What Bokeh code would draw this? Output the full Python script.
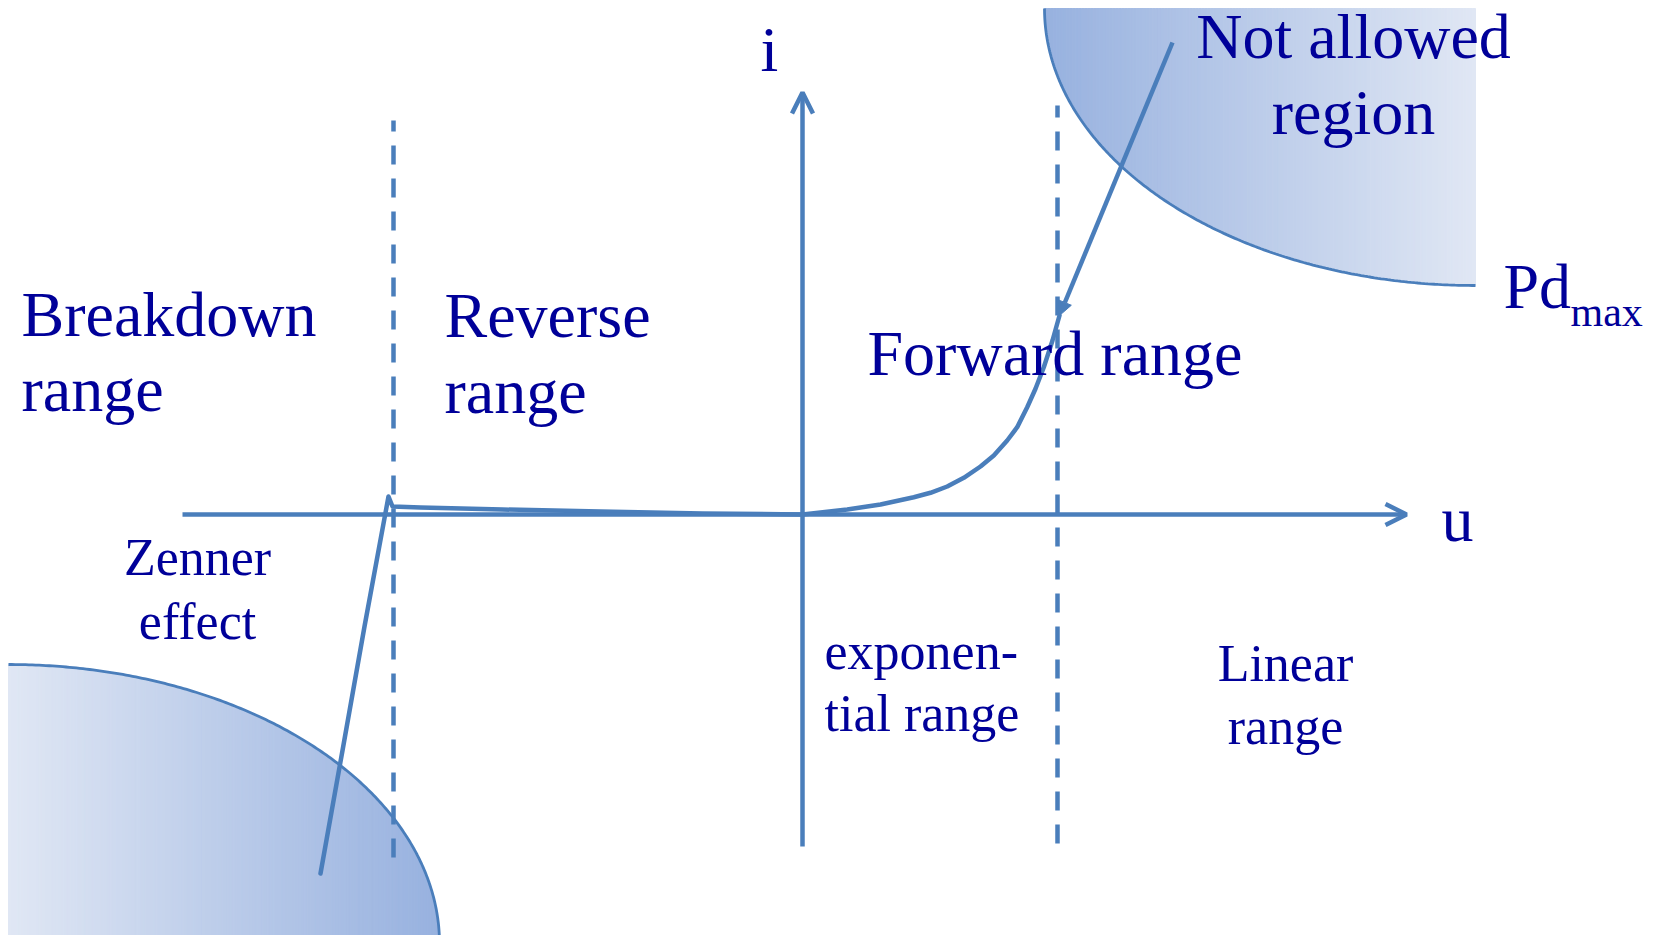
import numpy as np
from bokeh.plotting import figure
from bokeh.models import Range1d, Arrow, OpenHead, NormalHead, ColumnDataSource
from bokeh.core.properties import value
from bokeh.embed import file_html
from bokeh.resources import INLINE

# ---------------- data (diagram units: u horizontal, i vertical) ----------------
# diode characteristic: breakdown (Zener) branch, reverse branch, forward branch
curve_u = [-4.82, -4.60, -4.38, -4.14, -4.10, -3.82, -3.00, -2.02, -1.00, 0.00,
           0.113, 0.447, 0.78, 1.113, 1.28, 1.447, 1.613, 1.78, 1.913, 2.047,
           2.147, 2.247, 2.33, 2.413, 2.50, 2.57]
curve_i = [-3.59, -2.36, -1.12, 0.18, 0.08, 0.07, 0.05, 0.03, 0.01, 0.00,
           0.013, 0.05, 0.10, 0.173, 0.217, 0.28, 0.367, 0.48, 0.59, 0.74,
           0.873, 1.073, 1.257, 1.473, 1.74, 1.99]

# pointer from "Not allowed region" to the end of the forward curve
pointer_start = (3.70, 4.72)
pointer_end = (2.57, 1.99)

# range boundaries (dashed verticals)
boundary_u = [-4.09, 2.55]
boundary_top = [3.94, 4.09]
boundary_bottom = [-3.43, -3.29]

# axes extents
u_axis = (-6.20, 6.04)
i_axis = (-3.32, 4.22)

# not-allowed regions (quarter ellipses): centre, radii
pd_top = dict(cx=6.73, cy=5.06, rx=4.31, ry=2.77)
pd_bottom = dict(cx=-7.94, cy=-4.29, rx=4.31, ry=2.79)

big_labels = ["Breakdown", "range", "Reverse", "range", "Forward range"]
big_u = [-7.81, -7.81, -3.58, -3.58, 0.65]
big_i = [1.79, 1.04, 1.78, 1.02, 1.40]

na_labels = ["Not allowed", "region"]
na_u = [5.51, 5.51]
na_i = [4.57, 3.81]

small_c_labels = ["Zenner", "effect", "Linear", "range"]
small_c_u = [-6.05, -6.05, 4.83, 4.83]
small_c_i = [-0.60, -1.24, -1.66, -2.29]

small_l_labels = ["exponen-", "tial range"]
small_l_u = [0.22, 0.22]
small_l_i = [-1.54, -2.16]

# ---------------- styling ----------------
LINE = "#4a7ebb"
TXT = "#000099"
FONT = value("Liberation Serif")
DARK = np.array([0x97, 0xb1, 0xdf])
LIGHT = np.array([0xe0, 0xe7, 0xf4])
LW = 4.5

W, H = 1650, 935
PX = 100.0
OX, OY = 802, 514

p = figure(width=W, height=H,
           x_range=Range1d(-OX / PX, (W - OX) / PX),
           y_range=Range1d(-(H - OY) / PX, OY / PX),
           output_backend="svg", toolbar_location=None,
           x_axis_type=None, y_axis_type=None, min_border=0,
           outline_line_color=None, background_fill_color="white",
           border_fill_color="white")
p.grid.visible = False


def hexcol(c):
    c = np.clip(np.round(c), 0, 255).astype(int)
    return "#%02x%02x%02x" % tuple(c)


def gradient_quadrant(cx, cy, rx, ry, side, n=140):
    xs, ys, cols = [], [], []
    if side == "top_right":
        x_edges = np.linspace(cx - rx, cx, n + 1)
    else:
        x_edges = np.linspace(cx, cx + rx, n + 1)
    for k in range(n):
        x0, x1 = x_edges[k], x_edges[k + 1]
        sx = np.linspace(x0, x1, 4)
        t = np.sqrt(np.clip(1 - ((sx - cx) / rx) ** 2, 0, 1))
        if side == "top_right":
            b = cy - ry * t
            frac = (0.5 * (x0 + x1) - (cx - rx)) / rx
            col = DARK + (LIGHT - DARK) * frac
        else:
            b = cy + ry * t
            frac = (0.5 * (x0 + x1) - cx) / rx
            col = LIGHT + (DARK - LIGHT) * frac
        xs.append([x0] + list(sx) + [x1])
        ys.append([cy] + list(b) + [cy])
        cols.append(hexcol(col))
    src = ColumnDataSource(dict(xs=xs, ys=ys, c=cols))
    p.patches("xs", "ys", source=src, fill_color="c", line_color="c", line_width=1)
    th = np.linspace(0, np.pi / 2, 200)
    if side == "top_right":
        ax = cx - rx * np.cos(th)
        ay = cy - ry * np.sin(th)
    else:
        ax = cx + rx * np.sin(th)
        ay = cy + ry * np.cos(th)
    p.line(ax, ay, line_color=LINE, line_width=2.8)


gradient_quadrant(**pd_top, side="top_right")
gradient_quadrant(**pd_bottom, side="bottom_left")

# dashed boundaries
for bu, bt, bb in zip(boundary_u, boundary_top, boundary_bottom):
    p.line([bu, bu], [bb, bt], line_color=LINE, line_width=LW, line_dash="19 14")

# axes with open arrowheads
p.add_layout(Arrow(x_start=u_axis[0], y_start=0, x_end=u_axis[1], y_end=0,
                   line_color=LINE, line_width=LW,
                   end=OpenHead(size=21, line_color=LINE, line_width=LW)))
p.add_layout(Arrow(x_start=0, y_start=i_axis[0], x_end=0, y_end=i_axis[1],
                   line_color=LINE, line_width=LW,
                   end=OpenHead(size=21, line_color=LINE, line_width=LW)))

# characteristic curve
p.line(curve_u, curve_i, line_color=LINE, line_width=LW,
       line_join="round", line_cap="round")

# pointer arrow
p.add_layout(Arrow(x_start=pointer_start[0], y_start=pointer_start[1],
                   x_end=pointer_end[0], y_end=pointer_end[1],
                   line_color=LINE, line_width=LW,
                   end=NormalHead(size=14, fill_color=LINE, line_color=LINE, line_width=1)))


def add_text(us, is_, labels, size, align):
    # lift by the renderer's baseline offset (about a third of the font size)
    lift = 0.33 * size / PX
    p.text(us, [v + lift for v in is_], text=labels, text_font=FONT,
           text_font_size=f"{size}px", text_color=TXT, text_align=align,
           text_baseline="alphabetic")


add_text(big_u, big_i, big_labels, 64, "left")
add_text(na_u, na_i, na_labels, 64, "center")
add_text([7.01], [2.07], ["Pd"], 64, "left")
add_text([7.68], [1.89], ["max"], 42, "left")
add_text([-0.33, 6.55], [4.44, -0.26], ["i", "u"], 64, "center")
add_text(small_c_u, small_c_i, small_c_labels, 52, "center")
add_text(small_l_u, small_l_i, small_l_labels, 52, "left")

open("out.html", "w").write(file_html(p, INLINE))
